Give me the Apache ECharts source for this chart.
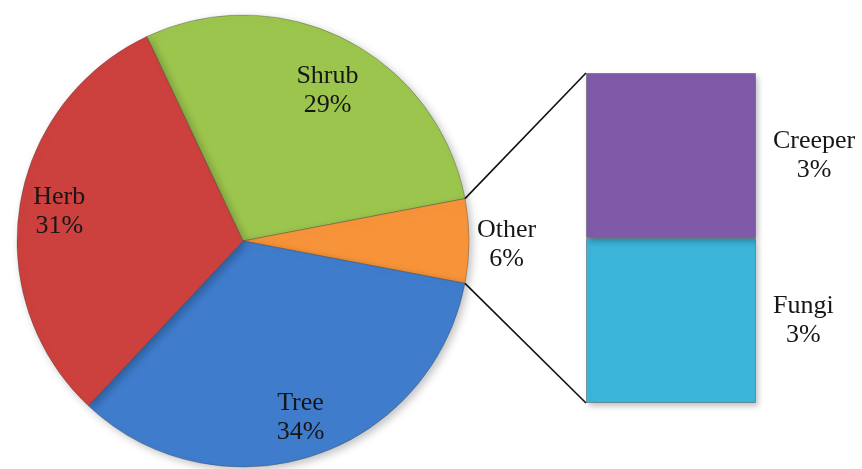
<!DOCTYPE html>
<html>
<head>
<meta charset="utf-8">
<script src="https://cdn.jsdelivr.net/npm/echarts@6/dist/echarts.min.js"></script>
<style>html,body{margin:0;padding:0;background:#fff;}#c{width:862px;height:469px;}</style>
</head>
<body>
<div id="c"></div>
<script>
// Main pie (clockwise order, starting at top-left boundary)
const pieNames = ['Shrub', 'Other', 'Tree', 'Herb'];
const pieValues = [29, 6, 34, 31];
const pieColors = ['#9cc54e', '#f7943a', '#3f7ccc', '#cc403d'];
// Breakdown of "Other" shown in the stacked bar (bottom to top)
const barNames = ['Fungi', 'Creeper'];
const barValues = [3, 3];
const barColors = ['#3bb5d9', '#7f5aa8'];

const FONT = '"Liberation Serif", "Times New Roman", serif';
const cx = 243, cy = 241, R = 226;
const total = pieValues.reduce((a, b) => a + b, 0);
const otherIdx = pieNames.indexOf('Other');
let before = 0;
for (let i = 0; i < otherIdx; i++) before += pieValues[i];
// center the "Other" slice on the 3 o'clock direction
const startAngle = (before + pieValues[otherIdx] / 2) / total * 360;

const chart = echarts.init(document.getElementById('c'), null, {renderer: 'canvas'});

const pct = v => Math.round(v / total * 100) + '%';

const baseData = pieNames.map((n, i) => ({
  name: n, value: pieValues[i],
  itemStyle: {color: pieColors[i]}
}));
const labelData = pieNames.map((n, i) => {
  const d = {name: n, value: pieValues[i]};
  if (n === 'Other') {
    d.label = {position: 'outside', distanceToLabelLine: 8, padding: [8, 0, 0, 0]};
    d.labelLine = {show: false, length: 0, length2: 0};
  }
  if (n === 'Shrub') {
    d.label = {padding: [30, 0, 0, 0]};
  }
  return d;
});

const textStyle = {fontFamily: FONT, fontSize: 26, color: '#161616', lineHeight: 29};

chart.setOption({
  animation: false,
  grid: {left: 586, top: 73, width: 170, height: 330},
  xAxis: {type: 'category', data: ['Other'], show: false},
  yAxis: {type: 'value', min: 0, max: barValues.reduce((a, b) => a + b, 0), show: false},
  series: [
    {
      type: 'pie', center: [cx, cy], radius: [0, R],
      startAngle: startAngle, clockwise: true, silent: true,
      label: {show: false}, labelLine: {show: false},
      itemStyle: {
        borderColor: 'rgba(60,60,60,0.35)', borderWidth: 1,
        shadowBlur: 8, shadowOffsetX: 3, shadowOffsetY: 3, shadowColor: 'rgba(0,0,0,0.25)'
      },
      data: baseData
    },
    {
      type: 'pie', center: [cx, cy], radius: [R * 0.62, R],
      startAngle: startAngle, clockwise: true, silent: true,
      avoidLabelOverlap: false,
      itemStyle: {color: 'rgba(0,0,0,0)'},
      label: {
        show: true, position: 'inside',
        formatter: p => '{t|' + p.name + '}\n{t|' + pct(p.value) + '}',
        rich: {t: Object.assign({align: 'center'}, textStyle)}
      },
      labelLine: {show: false},
      data: labelData
    },
    ...barNames.map((n, i) => ({
      type: 'bar', name: n, stack: 'o', barWidth: '100%', silent: true,
      data: [barValues[i]],
      itemStyle: {
        color: barColors[i], borderColor: 'rgba(40,40,40,0.35)', borderWidth: 1,
        shadowBlur: 6, shadowOffsetX: 2, shadowOffsetY: 3, shadowColor: 'rgba(0,0,0,0.25)'
      },
      label: {
        show: true, position: 'right', distance: 17,
        formatter: p => '{t|' + p.seriesName + '}\n{t|' + pct(p.value) + '}',
        rich: {t: Object.assign({align: 'center'}, textStyle)}
      }
    }))
  ]
});

// connector lines from the "Other" slice edges to the bar corners
const otherStart = startAngle - before / total * 360;
const otherEnd = otherStart - pieValues[otherIdx] / total * 360;
const pt = a => [cx + R * Math.cos(a * Math.PI / 180), cy - R * Math.sin(a * Math.PI / 180)];
const rect = chart.getModel().getComponent('grid').coordinateSystem.getRect();
const p1 = pt(otherStart), p2 = pt(otherEnd);
chart.setOption({
  graphic: [
    {type: 'line', shape: {x1: p1[0], y1: p1[1], x2: rect.x, y2: rect.y}, style: {stroke: '#111', lineWidth: 1.6}, z: 10},
    {type: 'line', shape: {x1: p2[0], y1: p2[1], x2: rect.x, y2: rect.y + rect.height}, style: {stroke: '#111', lineWidth: 1.6}, z: 10}
  ]
});
</script>
</body>
</html>
